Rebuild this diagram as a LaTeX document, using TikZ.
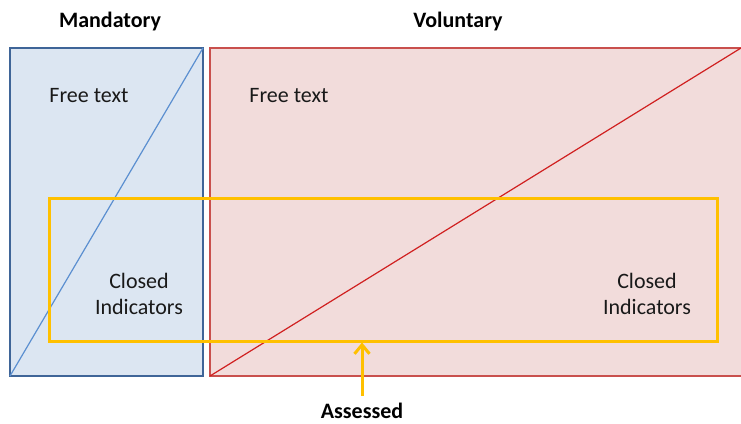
\documentclass[tikz,border=0pt]{standalone}
\usepackage{fontspec}
\setmainfont{Carlito}
\usetikzlibrary{arrows.meta}
\definecolor{bluefill}{HTML}{DCE6F2}
\definecolor{blueedge}{HTML}{3F6598}
\definecolor{bluediag}{HTML}{5B8FD0}
\definecolor{redfill}{HTML}{F2DCDB}
\definecolor{rededge}{HTML}{C9504D}
\definecolor{reddiag}{HTML}{D02020}
\definecolor{yel}{HTML}{FFC000}
\begin{document}
\begin{tikzpicture}[x=1pt,y=-1pt,
  lbl/.style={font=\fontsize{22}{26}\selectfont, text=black!90, align=center, inner sep=0pt},
  hdr/.style={font=\fontsize{22}{26}\selectfont\bfseries, text=black, inner sep=0pt}]
\useasboundingbox (0,0) rectangle (741,423);
% blue box
\draw[fill=bluefill, draw=blueedge, line width=2.8pt] (10,48) rectangle (203,376);
\draw[bluediag, line width=1.2pt] (10,376) -- (203,48);
% red box
\begin{scope}
\clip (0,0) rectangle (741,423);
\draw[fill=redfill, draw=rededge, line width=2.8pt] (210,48) rectangle (750,376);
\draw[reddiag, line width=1.2pt] (210,376) -- (741,48);
\end{scope}
% yellow box
\draw[yel, line width=3pt] (49,198) rectangle (717,341);
\coordinate (ytarget) at (362,342.5);
\coordinate (ystart) at (362,396);
\draw[yel, line width=3pt, -{Straight Barb[length=9pt,width=15pt,line width=3pt]}] (ystart) -- (ytarget);
% texts
\node[hdr] (mand) at (110,22) {Mandatory};
\node[hdr] (vol) at (458,22) {Voluntary};
\node[lbl] (ft1) at (89,96) {Free text};
\node[lbl] (ft2) at (289,96) {Free text};
\node[lbl] (ci1) at (139,294) {Closed\\Indicators};
\node[lbl] (ci2) at (647,294) {Closed\\Indicators};
\node[hdr, anchor=base] (ass) at (362,418) {Assessed};
\end{tikzpicture}
\end{document}
